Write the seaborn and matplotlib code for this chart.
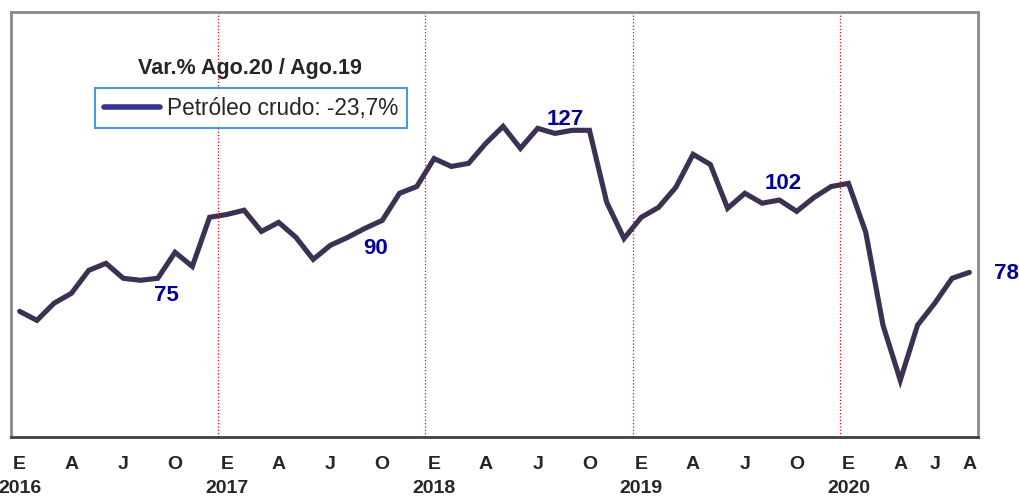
import matplotlib
matplotlib.use('Agg')
import matplotlib.pyplot as plt
import seaborn as sns
import pandas as pd
from matplotlib.lines import Line2D

# indice mensual petroleo crudo, ene-2016 a ago-2020
valores = [64.0, 60.8, 66.9, 70.4, 78.5, 81.0, 75.7, 75.0, 75.7, 84.9, 79.9, 97.3,
           98.3, 99.8, 92.3, 95.5, 90.2, 82.4, 87.4, 90.2, 93.4, 96.2, 105.8, 108.2,
           118.1, 115.3, 116.4, 123.5, 129.5, 121.7, 128.8, 127.0, 128.1, 128.1, 102.6, 89.8,
           97.3, 100.8, 107.9, 119.6, 116.0, 100.5, 105.8, 102.3, 103.4, 99.4, 104.3, 108.2,
           109.3, 92.0, 59.1, 39.6, 59.1, 66.9, 75.7, 77.8]
anios = ['2016', '2017', '2018', '2019', '2020']
tick_pos = [0, 3, 6, 9, 12, 15, 18, 21, 24, 27, 30, 33, 36, 39, 42, 45, 48, 51, 53, 55]
tick_lab = ['E\n2016', 'A', 'J', 'O', 'E\n2017', 'A', 'J', 'O', 'E\n2018', 'A', 'J', 'O',
            'E\n2019', 'A', 'J', 'O', 'E\n2020', 'A', 'J', 'A']
# etiquetas de datos: (mes, texto)
etiquetas = [(7, '75'), (19, '90'), (31, '127'), (43, '102'), (55, '78')]

df = pd.DataFrame({'mes': range(len(valores)), 'valor': valores})

sns.set_style('white')
plt.rcParams['font.family'] = ['Liberation Sans', 'DejaVu Sans']

fig = plt.figure(figsize=(10.2, 4.97), dpi=100)
ax = fig.add_axes([0.0108, 0.1207, 0.948, 0.8552])

sns.lineplot(data=df, x='mes', y='valor', ax=ax, color='#3d3153', linewidth=3.7,
             solid_joinstyle='miter')

for x in [11.5, 23.5, 35.5, 47.5]:
    ax.axvline(x, color='red', linestyle=':', linewidth=0.9)

ax.set_xlim(-0.5, 55.5)
ax.set_ylim(19.5, 170)
ax.set_yticks([])
ax.set_xticks(tick_pos)
ax.set_xticklabels(tick_lab, fontsize=14, fontweight='bold', linespacing=1.5, va='top')
ax.tick_params(axis='x', length=0, pad=14)
ax.set_xlabel('')
ax.set_ylabel('')

for s in ['left', 'top', 'right']:
    ax.spines[s].set_color('#8a8a8a')
    ax.spines[s].set_linewidth(2)
ax.spines['bottom'].set_color('#404040')
ax.spines['bottom'].set_linewidth(2)

# posiciones de las etiquetas respecto al punto
offs = {'75': (1.5, -5.3), '90': (1.6, -3.9), '127': (0.6, 4.9), '102': (1.2, 7.0), '78': (2.15, -0.3)}
for m, t in etiquetas:
    dx, dy = offs[t]
    ax.text(m + dx, valores[m] + dy, t, color='#000099', fontsize=16, fontweight='bold',
            ha='center', va='center', clip_on=False)

ax.text(0.247, 0.868, 'Var.% Ago.20 / Ago.19', transform=ax.transAxes, ha='center',
        va='center', fontsize=15.5, fontweight='bold')

h = Line2D([0], [0], color='#333399', linewidth=4, solid_capstyle='round')
leg = ax.legend([h], ['Petróleo crudo: -23,7%'], loc='upper left',
                bbox_to_anchor=(0.0869, 0.821), fontsize=16.3, frameon=True,
                fancybox=False, handlelength=2.5, borderpad=0.38, handletextpad=0.3,
                borderaxespad=0)
leg.get_frame().set_edgecolor('#1f7fd0')
leg.get_frame().set_linewidth(1.5)

fig.savefig('out.png', dpi=100)
